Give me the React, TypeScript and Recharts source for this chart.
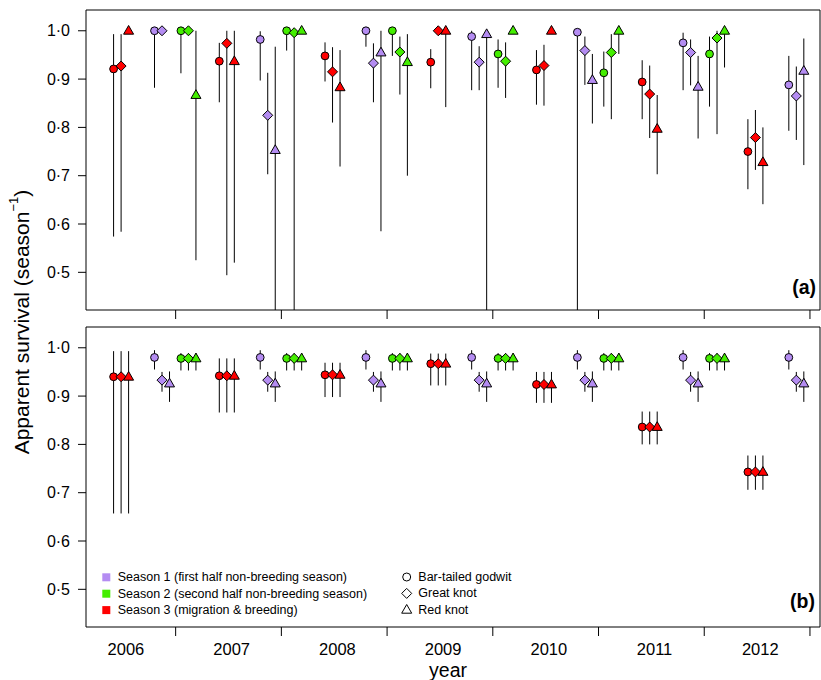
import React from 'react';
import { ScatterChart, Scatter, XAxis, YAxis, ErrorBar, ReferenceArea } from 'recharts';

// ---------- categories / labels ----------
const YEARS = [2006, 2007, 2008, 2009, 2010, 2011, 2012];
const S2_YEARS = [2007, 2008, 2009, 2010, 2011, 2012];
const YEAR_BOUNDARIES = [2007, 2008, 2009, 2010, 2011, 2012, 2013];
const SPECIES = ['Bar-tailed godwit', 'Great knot', 'Red knot'];
const SEASONS = [
  'Season 1 (first half non-breeding season)',
  'Season 2 (second half non-breeding season)',
  'Season 3 (migration & breeding)',
];
const Y_TICKS = [0.5, 0.6, 0.7, 0.8, 0.9, 1.0];

type Row = [number, number, number] | null; // [estimate, lower, upper]

// ---------- panel (a): season-specific models ----------
// Season 3 (migration & breeding), 2006..2012
const A_S3_BTG: Row[] = [[0.921, 0.574, 0.993], [0.937, 0.852, 0.975], [0.948, 0.895, 0.976], [0.935, 0.881, 0.962], [0.919, 0.847, 0.96], [0.894, 0.817, 0.939], [0.75, 0.672, 0.817]];
const A_S3_GK: Row[] = [[0.927, 0.584, 0.993], [0.974, 0.494, 1.0], [0.915, 0.81, 0.966], [1.0, 1.0, 1.0], [0.928, 0.845, 0.971], [0.869, 0.778, 0.928], [0.779, 0.712, 0.836]];
const A_S3_RK: Row[] = [[1.0, 1.0, 1.0], [0.937, 0.52, 1.0], [0.883, 0.719, 0.96], [1.0, 0.842, 1.0], [1.0, 1.0, 1.0], [0.797, 0.703, 0.867], [0.728, 0.641, 0.8]];
// Season 1 (first half non-breeding), 2006..2012
const A_S1_BTG: Row[] = [[1.0, 0.882, 1.0], [0.982, 0.897, 0.999], [1.0, 0.967, 1.0], [0.988, 0.877, 1.0], [0.997, 0.3, 1.0], [0.975, 0.877, 0.996], [0.888, 0.793, 0.948]];
const A_S1_GK: Row[] = [[1.0, 1.0, 1.0], [0.825, 0.703, 0.913], [0.933, 0.852, 0.974], [0.935, 0.877, 0.968], [0.959, 0.888, 0.988], [0.955, 0.887, 0.982], [0.865, 0.774, 0.926]];
const A_S1_RK: Row[] = [null, [0.753, 0.3, 0.967], [0.955, 0.585, 1.0], [0.993, 0.3, 1.0], [0.898, 0.808, 0.952], [0.884, 0.777, 0.948], [0.917, 0.722, 0.984]];
// Season 2 (second half non-breeding), 2007..2012
const A_S2_BTG: Row[] = [[1.0, 0.912, 1.0], [1.0, 0.959, 1.0], [1.0, 0.948, 1.0], [0.952, 0.882, 0.982], [0.913, 0.843, 0.957], [0.952, 0.843, 0.988]];
const A_S2_GK: Row[] = [[1.0, 1.0, 1.0], [0.996, 0.3, 1.0], [0.956, 0.868, 0.988], [0.937, 0.861, 0.976], [0.955, 0.817, 0.993], [0.985, 0.786, 1.0]];
const A_S2_RK: Row[] = [[0.867, 0.525, 1.0], [1.0, 1.0, 1.0], [0.935, 0.7, 0.993], [1.0, 1.0, 1.0], [1.0, 0.952, 1.0], [1.0, 0.924, 1.0]];

// ---------- panel (b): model with common estimates ----------
const B_S3: Row[] = [[0.94, 0.657, 0.993], [0.942, 0.866, 0.978], [0.944, 0.898, 0.969], [0.967, 0.922, 0.988], [0.924, 0.886, 0.95], [0.836, 0.8, 0.868], [0.743, 0.706, 0.777]];
const B_S1_BTG: Row[] = [[0.98, 0.955, 0.995], [0.98, 0.955, 0.995], [0.98, 0.955, 0.995], [0.98, 0.955, 0.995], [0.98, 0.955, 0.995], [0.98, 0.955, 0.995], [0.98, 0.955, 0.995]];
const B_S1_GK: Row[] = [[0.933, 0.909, 0.95], [0.933, 0.909, 0.95], [0.933, 0.909, 0.95], [0.933, 0.909, 0.95], [0.933, 0.909, 0.95], [0.933, 0.909, 0.95], [0.933, 0.909, 0.95]];
const B_S1_RK: Row[] = [[0.926, 0.888, 0.951], [0.926, 0.888, 0.951], [0.926, 0.888, 0.951], [0.926, 0.888, 0.951], [0.926, 0.888, 0.951], [0.926, 0.888, 0.951], [0.926, 0.888, 0.951]];
const B_S2: Row[] = [[0.978, 0.953, 0.989], [0.978, 0.953, 0.989], [0.978, 0.953, 0.989], [0.978, 0.953, 0.989], [0.978, 0.953, 0.989], [0.978, 0.953, 0.989]];

// ---------- layout / style constants ----------
const SEASON_T = { s3: 0.413, s1: 0.8, s2: 0.05 };
const DODGE = [0, 0.071, 0.142];
const LABEL_T = 0.53;
const X_DOMAIN: [number, number] = [2006.152, 2013.095];
const Y_DOMAIN: [number, number] = [0.422, 1.043];
const COLORS = { s1: '#B48CF2', s2: '#44EE00', s3: '#FF0000' };
const FONT = '"Liberation Sans", Arial, Helvetica, sans-serif';

// error bars are cut at the lower edge of the plotting region (as in the original)
const build = (years: number[], rows: Row[], off: number) =>
  rows
    .map((r, i) => {
      if (!r) return null;
      const lo = Math.max(r[1], Y_DOMAIN[0]);
      return { t: years[i] + off, v: r[0], err: [r[0] - lo, r[2] - r[0]] };
    })
    .filter(Boolean) as { t: number; v: number; err: number[] }[];

type Kind = 'circle' | 'diamond' | 'triangle';
const KINDS: Kind[] = ['circle', 'diamond', 'triangle'];

const markerPath = (kind: Kind, cx: number, cy: number) => {
  if (kind === 'diamond') return `M${cx},${cy - 5}L${cx + 5},${cy}L${cx},${cy + 5}L${cx - 5},${cy}Z`;
  return `M${cx},${cy - 5.3}L${cx + 5},${cy + 3.4}L${cx - 5},${cy + 3.4}Z`;
};

const makeShape = (kind: Kind, fill: string) => (p: any) => {
  const { cx, cy } = p;
  if (cx == null || cy == null) return <g />;
  if (kind === 'circle') return <circle cx={cx} cy={cy} r={3.9} fill={fill} stroke="#000" strokeWidth={1} />;
  return <path d={markerPath(kind, cx, cy)} fill={fill} stroke="#000" strokeWidth={1} />;
};

const X_TICKS: number[] = [];
YEARS.forEach((y, i) => {
  X_TICKS.push(y + LABEL_T);
  X_TICKS.push(YEAR_BOUNDARIES[i]);
});

const YearTick = (props: any) => {
  const { x, y, payload, showLabels } = props;
  const v = payload.value;
  if (Number.isInteger(v)) return <line x1={x} x2={x} y1={y} y2={y + 9} stroke="#000" strokeWidth={1} />;
  if (!showLabels) return <g />;
  return (
    <text x={x} y={y + 22} textAnchor="middle" dominantBaseline="central" fontSize={16.5} fill="#000" fontFamily={FONT}>
      {String(Math.floor(v))}
    </text>
  );
};

const fmtY = (v: number) => v.toFixed(1).replace('.', '·');

type SeriesDef = { key: string; data: any[]; kind: Kind; fill: string };

const seriesFor = (s3: Row[][], s1: Row[][], s2: Row[][]): SeriesDef[] => {
  const out: SeriesDef[] = [];
  KINDS.forEach((k, i) => out.push({ key: `s3-${k}`, data: build(YEARS, s3[i], SEASON_T.s3 + DODGE[i]), kind: k, fill: COLORS.s3 }));
  KINDS.forEach((k, i) => out.push({ key: `s1-${k}`, data: build(YEARS, s1[i], SEASON_T.s1 + DODGE[i]), kind: k, fill: COLORS.s1 }));
  KINDS.forEach((k, i) => out.push({ key: `s2-${k}`, data: build(S2_YEARS, s2[i], SEASON_T.s2 + DODGE[i]), kind: k, fill: COLORS.s2 }));
  return out;
};

const SERIES_A = seriesFor([A_S3_BTG, A_S3_GK, A_S3_RK], [A_S1_BTG, A_S1_GK, A_S1_RK], [A_S2_BTG, A_S2_GK, A_S2_RK]);
const SERIES_B = seriesFor([B_S3, B_S3, B_S3], [B_S1_BTG, B_S1_GK, B_S1_RK], [B_S2, B_S2, B_S2]);

const Panel = ({ series, labels, height, margin, xHeight }: any) => (
  <ScatterChart width={821} height={height} margin={margin}>
    <XAxis
      type="number"
      dataKey="t"
      domain={X_DOMAIN}
      allowDataOverflow
      ticks={X_TICKS}
      interval={0}
      axisLine={false}
      tickLine={false}
      tickSize={0}
      tickMargin={0}
      height={xHeight}
      tick={(p: any) => <YearTick {...p} showLabels={labels} />}
      label={
        labels
          ? { value: 'year', position: 'insideBottom', offset: 3, dx: -5, fontSize: 19.5, fill: '#000', fontFamily: FONT }
          : undefined
      }
    />
    <YAxis
      type="number"
      dataKey="v"
      domain={Y_DOMAIN}
      allowDataOverflow
      ticks={Y_TICKS}
      interval={0}
      width={86}
      axisLine={false}
      tickSize={8}
      tickMargin={8}
      tickLine={{ stroke: '#000' }}
      tickFormatter={fmtY}
      tick={{ fontSize: 16, fill: '#000', fontFamily: FONT }}
    />
    <ReferenceArea x1={X_DOMAIN[0]} x2={X_DOMAIN[1]} y1={Y_DOMAIN[0]} y2={Y_DOMAIN[1]} fill="none" stroke="#000" strokeWidth={1} fillOpacity={0} />
    {series.map((s: SeriesDef) => (
      <Scatter key={s.key} data={s.data} isAnimationActive={false} shape={makeShape(s.kind, s.fill)}>
        <ErrorBar dataKey="err" direction="y" width={0} stroke="#000" strokeWidth={1} isAnimationActive={false} />
      </Scatter>
    ))}
  </ScatterChart>
);

const LegendSymbol = ({ kind, x, y }: { kind: Kind; x: number; y: number }) =>
  kind === 'circle' ? (
    <circle cx={x} cy={y} r={4} fill="none" stroke="#000" strokeWidth={1} />
  ) : (
    <path d={markerPath(kind, x, y)} fill="none" stroke="#000" strokeWidth={1} />
  );

export default function App() {
  const seasonColors = [COLORS.s1, COLORS.s2, COLORS.s3];
  return (
    <div style={{ position: 'absolute', left: 0, top: 0, width: 821, height: 680, background: '#fff', fontFamily: FONT }}>
      <div style={{ position: 'absolute', left: 0, top: 0 }}>
        <Panel series={SERIES_A} labels={false} height={320} xHeight={10} margin={{ top: 10, right: 1, bottom: 0, left: 0 }} />
      </div>
      <div style={{ position: 'absolute', left: 0, top: 316 }}>
        <Panel series={SERIES_B} labels={true} height={364} xHeight={53} margin={{ top: 11, right: 1, bottom: 0, left: 0 }} />
      </div>
      <svg width={821} height={680} style={{ position: 'absolute', left: 0, top: 0, pointerEvents: 'none' }} fontFamily={FONT}>
        <text
          x={21}
          y={322}
          transform="rotate(-90, 21, 322)"
          textAnchor="middle"
          dominantBaseline="central"
          fontSize={21}
          fill="#000"
        >
          Apparent survival (season
          <tspan dy={-8} fontSize={13}>−1</tspan>
          <tspan dy={8}>)</tspan>
        </text>
        <text x={816} y={287} textAnchor="end" dominantBaseline="central" fontSize={19.5} fontWeight="bold" fill="#000">(a)</text>
        <text x={815} y={601} textAnchor="end" dominantBaseline="central" fontSize={19.5} fontWeight="bold" fill="#000">(b)</text>
        {SEASONS.map((s, i) => (
          <g key={s}>
            <rect x={102.3} y={573.3 + i * 16.4} width={8} height={8} fill={seasonColors[i]} />
            <text x={117.7} y={577.3 + i * 16.4} dominantBaseline="central" fontSize={12.5} fill="#000">{s}</text>
          </g>
        ))}
        {SPECIES.map((s, i) => (
          <g key={s}>
            <LegendSymbol kind={KINDS[i]} x={406.7} y={577 + i * 16.4} />
            <text x={418.3} y={577 + i * 16.4} dominantBaseline="central" fontSize={12.5} fill="#000">{s}</text>
          </g>
        ))}
      </svg>
    </div>
  );
}
